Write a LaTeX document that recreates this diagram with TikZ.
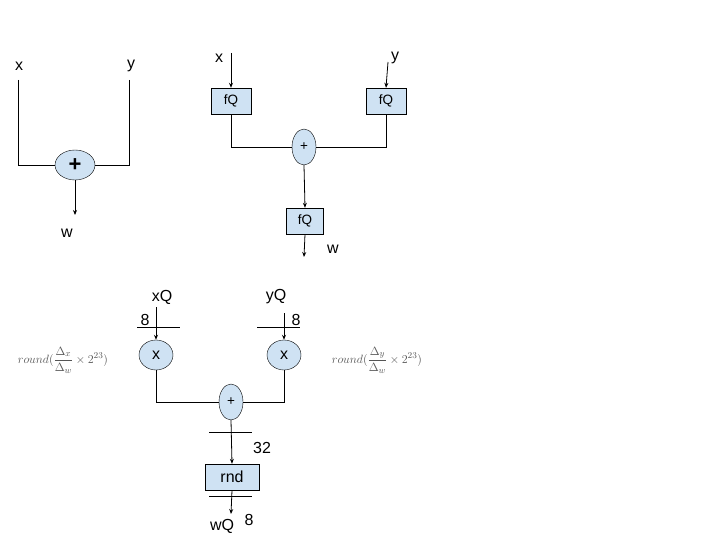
\documentclass[tikz,border=0pt]{standalone}
\usepackage{fontspec}
\setmainfont{Liberation Sans}
\usetikzlibrary{arrows.meta,shapes.geometric}
\definecolor{boxfill}{HTML}{CFE2F3}
\definecolor{frm}{HTML}{555555}
\begin{document}
\begin{tikzpicture}[x=1pt,y=-1pt,
  lbl/.style={font=\fontsize{16}{18}\selectfont,inner sep=0pt},
  sm/.style={font=\fontsize{13.5}{15}\selectfont,inner sep=0pt},
  opell/.style={draw=black,fill=boxfill,ellipse,inner sep=0pt},
  opbox/.style={draw=black,fill=boxfill,rectangle,inner sep=0pt},
  arr/.style={-{Stealth[length=5pt,width=4pt]}},
  ln/.style={draw=black,line width=0.8pt},
  fm/.style={text=frm,inner sep=0pt,font=\fontsize{13}{15}\selectfont}]
\useasboundingbox (0,0) rectangle (720,540);
% left
\node[lbl] (x1) at (19,66) {x};
\node[lbl] (y1) at (131,66) {y};
\node[opell,minimum width=40pt,minimum height=30pt,font=\fontsize{22}{24}\selectfont\bfseries] (p1) at (75,165) {+};
\coordinate (x1s) at (18,80); \coordinate (y1s) at (129,80);
\coordinate (w1e) at (75,215);
\node[lbl] (w1) at (67,233) {w};
\draw[ln] (x1s) |- (p1.west);
\draw[ln] (y1s) |- (p1.east);
\draw[ln,arr] (p1.south) -- (w1e);
% middle
\node[lbl] (x2) at (219,58) {x};
\node[lbl] (y2) at (395,58) {y};
\node[opbox,sm,minimum width=40pt,minimum height=26pt] (f1) at (231,101) {fQ};
\node[opbox,sm,minimum width=40pt,minimum height=26pt] (f2) at (386,101) {fQ};
\node[opell,sm,minimum width=24pt,minimum height=36pt] (p2) at (304,147) {+};
\node[opbox,sm,minimum width=37pt,minimum height=26pt] (f3) at (305,221) {fQ};
\coordinate (x2s) at (231,53); \coordinate (y2s) at (388,62);
\coordinate (w2e) at (304,257);
\node[lbl] (w2) at (333,249) {w};
\draw[ln,arr] (x2s) -- (f1.north);
\draw[ln,arr] (y2s) -- (f2.north);
\draw[ln] (f1.south) |- (p2.west);
\draw[ln] (f2.south) |- (p2.east);
\draw[ln,arr] (p2.south) -- (f3.north);
\draw[ln,arr] (f3.south) -- (w2e);
% bottom
\node[lbl] (xq) at (162,297) {xQ};
\node[lbl] (yq) at (276,297) {yQ};
\node[opell,lbl,minimum width=34pt,minimum height=30pt] (m1) at (156,355) {x};
\node[opell,lbl,minimum width=34pt,minimum height=30pt] (m2) at (284,355) {x};
\node[opell,sm,minimum width=24pt,minimum height=36pt] (p3) at (231,402) {+};
\node[opbox,lbl,minimum width=54pt,minimum height=26pt] (rnd) at (232,477) {rnd};
\coordinate (xqs) at (156,307); \coordinate (yqs) at (284,313);
\coordinate (wqe) at (231,514);
\node[lbl] (wq) at (222,526) {wQ};
\node[lbl] (n8a) at (145,320) {8};
\node[lbl] (n8b) at (296,320) {8};
\node[lbl] (n32) at (262,448) {32};
\node[lbl] (n8c) at (249,520) {8};
\coordinate (t1a) at (137,327); \coordinate (t1b) at (180,327);
\coordinate (t2a) at (257,327); \coordinate (t2b) at (300,327);
\coordinate (t3a) at (209,432); \coordinate (t3b) at (252,432);
\coordinate (t4a) at (209,496); \coordinate (t4b) at (252,496);
\draw[ln] (t1a) -- (t1b); \draw[ln] (t2a) -- (t2b);
\draw[ln] (t3a) -- (t3b); \draw[ln] (t4a) -- (t4b);
\draw[ln,arr] (xqs) -- (m1.north);
\draw[ln,arr] (yqs) -- (m2.north);
\draw[ln] (m1.south) |- (p3.west);
\draw[ln] (m2.south) |- (p3.east);
\draw[ln,arr] (p3.south) -- (rnd.north);
\draw[ln,arr] (rnd.south) -- (wqe);
\node[fm] (fx) at (63,360) {$\displaystyle round(\frac{\Delta_x}{\Delta_w}\times 2^{23})$};
\node[fm] (fy) at (377,360) {$\displaystyle round(\frac{\Delta_y}{\Delta_w}\times 2^{23})$};
\end{tikzpicture}
\end{document}
